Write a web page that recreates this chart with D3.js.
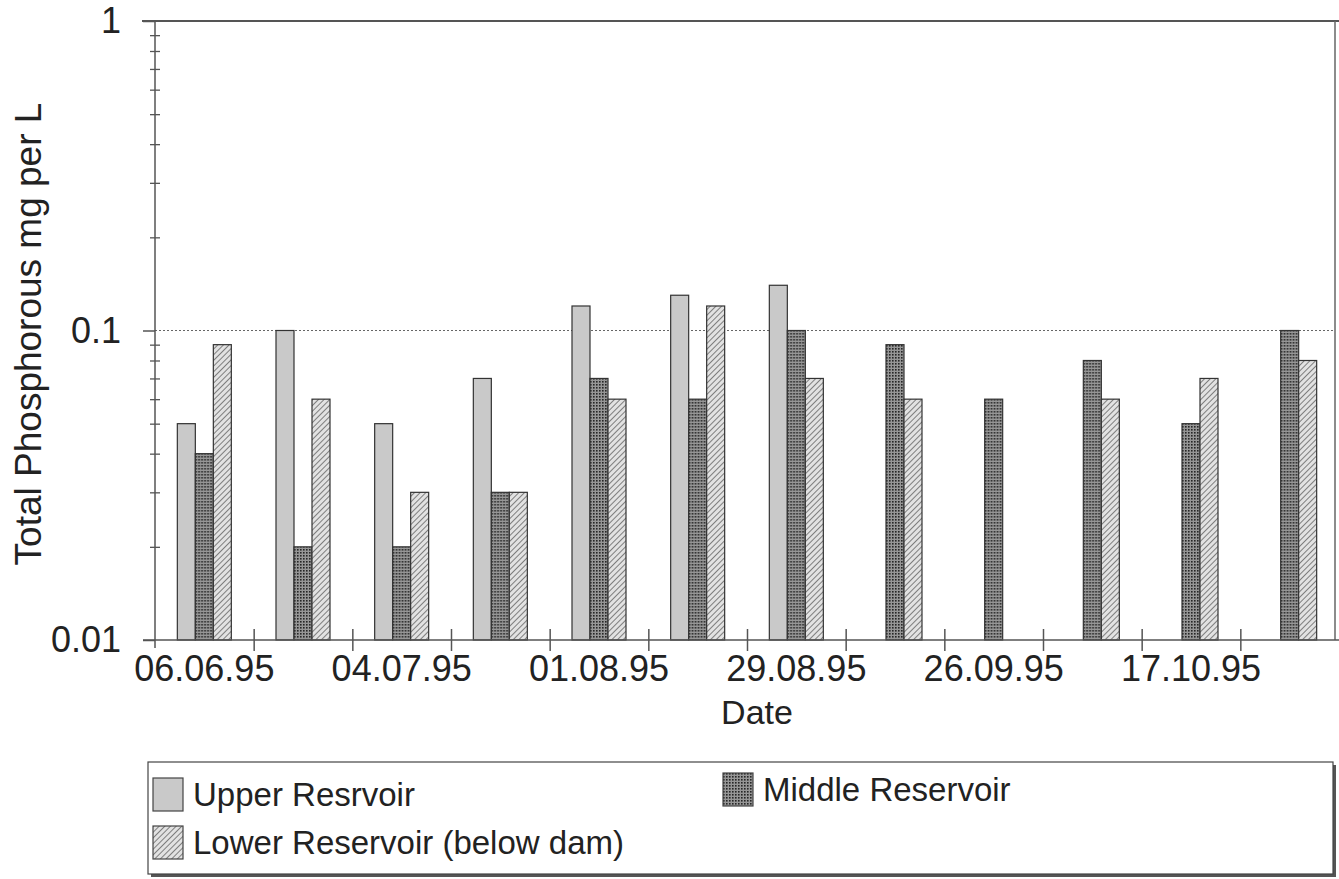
<!DOCTYPE html>
<html>
<head>
	<title>Total Phosphorous</title>
	<style>
		body { margin: 0; background-color: #ffffff; }
		text { font-family: 'Liberation Sans', Arial, sans-serif; fill: #222; }
	</style>
</head>
<body>

<div id="chart"></div>

<script src="https://d3js.org/d3.v7.min.js"></script>
<script>

	// sampling dates, only every second one is labelled on the axis
	var dates = ['06.06.95', '', '04.07.95', '', '01.08.95', '', '29.08.95', '', '26.09.95', '', '17.10.95', ''];

	var seriesNames = ['Upper Resrvoir', 'Middle Reservoir', 'Lower Reservoir (below dam)'];

	var upper  = [0.05, 0.10, 0.05, 0.07, 0.12, 0.13, 0.14, null, null, null, null, null];
	var middle = [0.04, 0.02, 0.02, 0.03, 0.07, 0.06, 0.10, 0.09, 0.06, 0.08, 0.05, 0.10];
	var lower  = [0.09, 0.06, 0.03, 0.03, 0.06, 0.12, 0.07, 0.06, null, 0.06, 0.07, 0.08];

	var yMajor = [0.01, 0.1, 1];
	var yMinor = [0.02, 0.03, 0.04, 0.05, 0.06, 0.07, 0.08, 0.09, 0.2, 0.3, 0.4, 0.5, 0.6, 0.7, 0.8, 0.9];


	var width = 1339;
	var height = 879;

	// plot edges (not called "top", that one belongs to window)
	var plotLeft = 155, plotRight = 1339, plotTop = 21, plotBottom = 640;

	var svg = d3.select('#chart')
		.append('svg')
		.attr('width', width)
		.attr('height', height)
		;

	// fill patterns for the three series
	var defs = svg.append('defs');

	var dots = defs.append('pattern')
		.attr('id', 'dots')
		.attr('patternUnits', 'userSpaceOnUse')
		.attr('width', 3)
		.attr('height', 3);
	dots.append('rect').attr('width', 3).attr('height', 3).attr('fill', '#969696');
	dots.append('rect').attr('width', 1.6).attr('height', 1.6).attr('fill', '#262626');

	var hatch = defs.append('pattern')
		.attr('id', 'hatch')
		.attr('patternUnits', 'userSpaceOnUse')
		.attr('width', 4)
		.attr('height', 4)
		.attr('patternTransform', 'rotate(45)');
	hatch.append('rect').attr('width', 4).attr('height', 4).attr('fill', '#e2e2e2');
	hatch.append('line').attr('x1', 0).attr('y1', 0).attr('x2', 0).attr('y2', 4)
		.attr('stroke', '#656565').attr('stroke-width', 1.6);

	var fills = ['#c9c9c9', 'url(#dots)', 'url(#hatch)'];


	var x = d3.scaleBand()
		.domain(d3.range(dates.length))
		.range([plotLeft, plotRight]);

	var xEdge = d3.scaleLinear()
		.domain([0, dates.length])
		.range([plotLeft, plotRight]);

	var xInner = d3.scaleBand()
		.domain(d3.range(seriesNames.length))
		.range([0, 54]);

	var y = d3.scaleLog()
		.domain([0.01, 1])
		.range([plotBottom, plotTop]);


	// frame: top line and right line
	svg.append('line')
		.attr('x1', plotLeft - 13).attr('x2', plotRight)
		.attr('y1', plotTop).attr('y2', plotTop)
		.attr('stroke', '#555').attr('stroke-width', 2);

	svg.append('line')
		.attr('x1', 1335).attr('x2', 1335)
		.attr('y1', plotTop).attr('y2', plotBottom)
		.attr('stroke', '#666').attr('stroke-width', 1.5);

	// dotted line at 0.1
	svg.append('line')
		.attr('x1', plotLeft).attr('x2', 1335)
		.attr('y1', y(0.1)).attr('y2', y(0.1))
		.attr('stroke', '#666')
		.attr('stroke-width', 1)
		.attr('stroke-dasharray', '2,2');


	// bars
	var table = dates.map(function(d, i){
		return [upper[i], middle[i], lower[i]];
	});

	var groups = svg.selectAll('.group')
		.data(table)
		.enter()
		.append('g')
		.attr('class', 'group')
		.attr('transform', function(d, i){ return 'translate(' + (x(i) + (x.bandwidth() - 54) / 2) + ',0)'; })
		;

	groups.selectAll('rect')
		.data(function(d){ return d.map(function(v, j){ return {v: v, s: j}; }).filter(function(e){ return e.v != null; }); })
		.enter()
		.append('rect')
		.attr('x', function(d){ return xInner(d.s); })
		.attr('width', xInner.bandwidth())
		.attr('y', function(d){ return y(d.v); })
		.attr('height', function(d){ return plotBottom - y(d.v); })
		.attr('fill', function(d){ return fills[d.s]; })
		.attr('stroke', '#333')
		.attr('stroke-width', 1.2)
		;


	// y axis, major ticks
	var yAxis = svg.append('g')
		.attr('transform', 'translate(' + plotLeft + ',0)')
		.call(d3.axisLeft(y).tickValues(yMajor).tickSize(12).tickPadding(22).tickFormat(function(d){ return d; }));

	yAxis.select('.domain').attr('stroke', '#555').attr('stroke-width', 1.5).attr('d', 'M0,' + plotTop + 'V' + (plotBottom + 8));
	yAxis.selectAll('.tick line').attr('stroke', '#555').attr('stroke-width', 1.5);
	yAxis.selectAll('.tick text')
		.attr('font-size', 36)
		.attr('fill', '#222')
		.attr('font-family', "'Liberation Sans', Arial, sans-serif");

	// minor ticks crossing the axis
	var yMinorAxis = svg.append('g')
		.attr('transform', 'translate(' + (plotLeft + 5) + ',0)')
		.call(d3.axisLeft(y).tickValues(yMinor).tickSize(10).tickFormat(''));
	yMinorAxis.select('.domain').remove();
	yMinorAxis.selectAll('.tick line').attr('stroke', '#555').attr('stroke-width', 1.3);


	// x axis line and crossing ticks at the band edges
	svg.append('line')
		.attr('x1', plotLeft - 12).attr('x2', plotRight)
		.attr('y1', plotBottom).attr('y2', plotBottom)
		.attr('stroke', '#555').attr('stroke-width', 1.5);

	var xTicks = svg.append('g')
		.attr('transform', 'translate(0,' + (plotBottom - 11) + ')')
		.call(d3.axisBottom(xEdge).tickValues(d3.range(1, dates.length)).tickSize(22).tickFormat(''));
	xTicks.select('.domain').remove();
	xTicks.selectAll('.tick line').attr('stroke', '#555').attr('stroke-width', 1.5);

	// date labels
	var xAxis = svg.append('g')
		.attr('transform', 'translate(0,' + plotBottom + ')')
		.call(d3.axisBottom(x).tickSize(0).tickPadding(15).tickFormat(function(i){ return dates[i]; }));
	xAxis.select('.domain').remove();
	xAxis.selectAll('.tick text')
		.attr('font-size', 36)
		.attr('fill', '#222')
		.attr('font-family', "'Liberation Sans', Arial, sans-serif");


	// axis titles
	svg.append('text')
		.attr('x', 757)
		.attr('y', 724)
		.attr('text-anchor', 'middle')
		.attr('font-size', 34)
		.text('Date');

	svg.append('text')
		.attr('transform', 'translate(41,334) rotate(-90)')
		.attr('text-anchor', 'middle')
		.attr('font-size', 37)
		.text('Total Phosphorous mg per L');


	// legend
	var legend = svg.append('g');

	legend.append('rect')
		.attr('x', 151).attr('y', 765)
		.attr('width', 1185).attr('height', 112)
		.attr('fill', '#555');

	legend.append('rect')
		.attr('x', 148).attr('y', 762)
		.attr('width', 1185).attr('height', 112)
		.attr('fill', '#fff')
		.attr('stroke', '#444')
		.attr('stroke-width', 1.2);

	var legendPos = [[153, 778], [723, 773], [153, 826]];

	var items = legend.selectAll('.item')
		.data(seriesNames)
		.enter()
		.append('g')
		.attr('class', 'item')
		.attr('transform', function(d, i){ return 'translate(' + legendPos[i][0] + ',' + legendPos[i][1] + ')'; });

	items.append('rect')
		.attr('width', 30)
		.attr('height', 33)
		.attr('fill', function(d, i){ return fills[i]; })
		.attr('stroke', '#444')
		.attr('stroke-width', 1.2);

	items.append('text')
		.attr('x', 40)
		.attr('y', 28)
		.attr('font-size', 33)
		.text(function(d){ return d; });

</script>

</body>
</html>
